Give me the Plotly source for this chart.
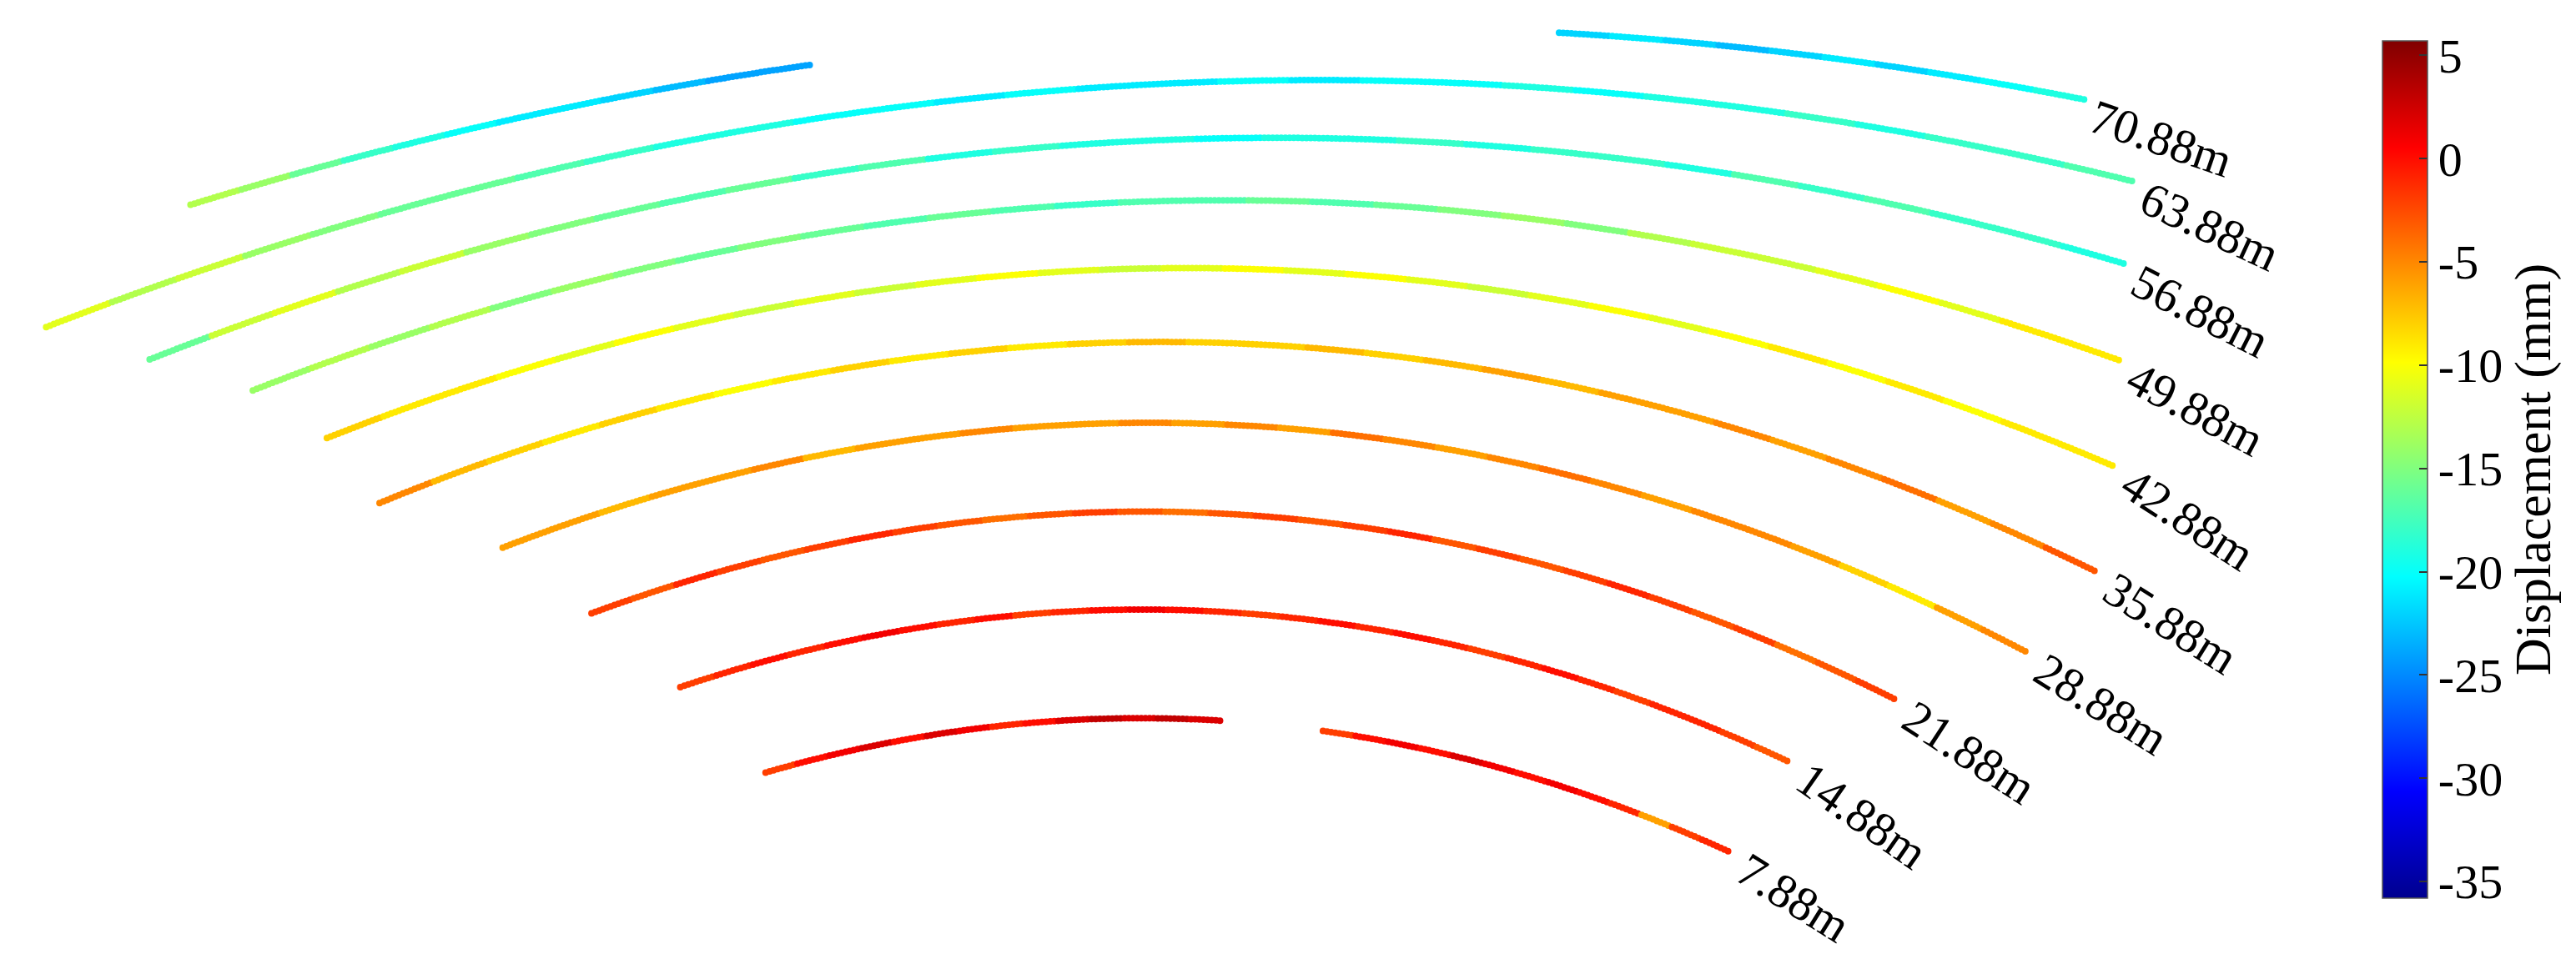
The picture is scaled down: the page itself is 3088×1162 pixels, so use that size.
import math
import plotly.graph_objects as go

# ---------------- data ----------------
ranges_m = [7.88, 14.88, 21.88, 28.88, 35.88, 42.88, 49.88, 56.88, 63.88, 70.88]
range_labels = ["7.88m", "14.88m", "21.88m", "28.88m", "35.88m",
                "42.88m", "49.88m", "56.88m", "63.88m", "70.88m"]
# azimuth extent of each range arc (deg)
az_start_deg = [-16.84, -19.63, -21.61, -22.71, -24.32, -23.31, -23.00, -23.19, -22.85, -17.98]
az_end_deg = [27.13, 28.18, 30.12, 31.64, 29.53, 25.36, 21.09, 17.33, 14.45, 11.45]

# displacement (mm) in equal azimuth cells, left -> right (None = no valid data)
disp_7_88 = [-2, 0, 1, 2, 0, 2, 1, -1, 0, 2, 3, 2, 3, 2, None, None, None,
             -2, 0, 1, 0, 2, 1, 0, 1, 0, -1, -6, -2, -1]
disp_14_88 = [-2, -1, 0, -1, 0, 1, 0, -1, 0, -2, -1, 0, 1, 0, -1, -2, -1, 0,
              -1, 0, -1, -2, -1, 0, -1, -2, -1, -1, -2, -3]
disp_21_88 = [-2, -3, -1, -2, -3, -2, -1, -2, -3, -4, -3, -2, -3, -4, -3, -2,
              -3, -2, -1, -3, -2, -3, -2, -1, -2, -3, -2, -4, -3, -2]
disp_28_88 = [-6, -6, -7, -6, -6, -5, -7, -6, -6, -5, -6, -6, -5, -6, -5, -6,
              -4, -5, -6, -5, -4, -5, -6, -5, -5, -6, -8, -9, -6, -5]
disp_35_88 = [-5, -7, -8, -9, -8, -9, -10, -9, -8, -9, -8, -9, -8, -7, -8, -8,
              -7, -8, -7, -6, -7, -6, -6, -5, -6, -5, -4, -6, -5, -3]
disp_42_88 = [-8, -9, -9, -10, -11, -10, -11, -12, -11, -12, -11, -10, -11, -12,
              -11, -10, -11, -10, -11, -12, -11, -10, -11, -10, -9, -10, -9, -10, -9, -9]
disp_49_88 = [-14, -13, -14, -13, -15, -14, -15, -16, -15, -16, -17, -16, -17, -18,
              -17, -17, -16, -17, -16, -15, -14, -15, -13, -12, -12, -11, -10, -11, -9, -9]
disp_56_88 = [-16, -12, -11, -13, -12, -14, -15, -16, -17, -16, -18, -17, -19, -18,
              -19, -19, -20, -19, -19, -18, -19, -18, -18, -19, -17, -18, -17, -18, -18, -19]
disp_63_88 = [-11, -13, -12, -14, -15, -16, -16, -17, -18, -19, -19, -20, -20, -21,
              -20, -21, -21, -20, -21, -20, -20, -19, -20, -19, -19, -18, -19, -18, -18, -17]
disp_70_88 = [-13, -14, -16, -18, -19, -20, -21, -21, -22, -23, -24, -24,
              None, None, None, None, None, None, None, None, None, None, None, None, None, None,
              -22, -21, -22, -23, -22, -21, -22, -21, -20, -19]
disp_by_arc = [disp_7_88, disp_14_88, disp_21_88, disp_28_88, disp_35_88,
               disp_42_88, disp_49_88, disp_56_88, disp_63_88, disp_70_88]

cbar_ticks = [5, 0, -5, -10, -15, -20, -25, -30, -35]

# ---------------- styling ----------------
label_angles = [32, 35, 33, 32, 32, 33, 28, 27, 25, 19]
jet = [[0.0, "rgb(0,0,143)"], [0.125, "rgb(0,0,255)"], [0.375, "rgb(0,255,255)"],
       [0.625, "rgb(255,255,0)"], [0.875, "rgb(255,0,0)"], [1.0, "rgb(128,0,0)"]]
FONT = "Liberation Serif, Times New Roman, serif"


def project(r, az_deg):
    """Oblique view of the range/azimuth fan onto the image plane."""
    xc = 690 + 140 / (1 + math.exp((54 - r) / 8))
    rc = 770 + 0.3 * r * r
    y0 = -845.3 + 164010 / (120.4 + r)
    s = math.sin(math.radians(az_deg))
    return xc + rc * s, y0 + 0.5 * rc * s * s


fig = go.Figure()
for r, a0, a1, vals in zip(ranges_m, az_start_deg, az_end_deg, disp_by_arc):
    n = len(vals)
    da = (a1 - a0) / n
    xs, ys, cs = [], [], []
    for k, v in enumerate(vals):
        if v is None:
            continue
        ca0 = a0 + k * da
        xa, ya = project(r, ca0)
        xb, yb = project(r, ca0 + da)
        npts = max(2, int(math.hypot(xb - xa, yb - ya) / 2.6) + 1)
        for j in range(npts):
            x, y = project(r, ca0 + da * j / npts)
            xs.append(x)
            ys.append(y)
            cs.append(v)
    fig.add_trace(go.Scatter(
        x=xs, y=ys, mode="markers", showlegend=False, hoverinfo="skip",
        marker=dict(size=8, symbol="circle", color=cs, coloraxis="coloraxis",
                    line=dict(width=0)),
    ))

for r, a1, lab, ang in zip(ranges_m, az_end_deg, range_labels, label_angles):
    xe, ye = project(r, a1)
    fig.add_annotation(x=xe - 4, y=ye - 8, text=lab, textangle=ang,
                       xanchor="left", yanchor="top", showarrow=False,
                       font=dict(family=FONT, size=58, color="black"))

fig.update_layout(
    width=3088, height=1162,
    margin=dict(l=0, r=0, t=0, b=0, autoexpand=False),
    paper_bgcolor="white", plot_bgcolor="white",
    xaxis=dict(range=[0, 1568], visible=False, domain=[0, 1]),
    yaxis=dict(range=[590, 0], visible=False, domain=[0, 1]),
    coloraxis=dict(
        colorscale=jet, cmin=-35.8, cmax=5.7,
        colorbar=dict(
            x=2848 / 3088, xanchor="left", xpad=0, ypad=0,
            y=1 - 555 / 1162, yanchor="middle",
            thickness=54, lenmode="pixels", len=1028,
            outlinecolor="#555555", outlinewidth=1.5,
            tickmode="array", tickvals=cbar_ticks,
            ticktext=[str(t) for t in cbar_ticks],
            ticks="inside", ticklen=10, tickwidth=2, tickcolor="#333333",
            tickfont=dict(family=FONT, size=58, color="black"),
            title=dict(text="Displacement (mm)", side="right",
                       font=dict(family=FONT, size=62, color="black")),
        ),
    ),
)

fig.write_html("out.html")
